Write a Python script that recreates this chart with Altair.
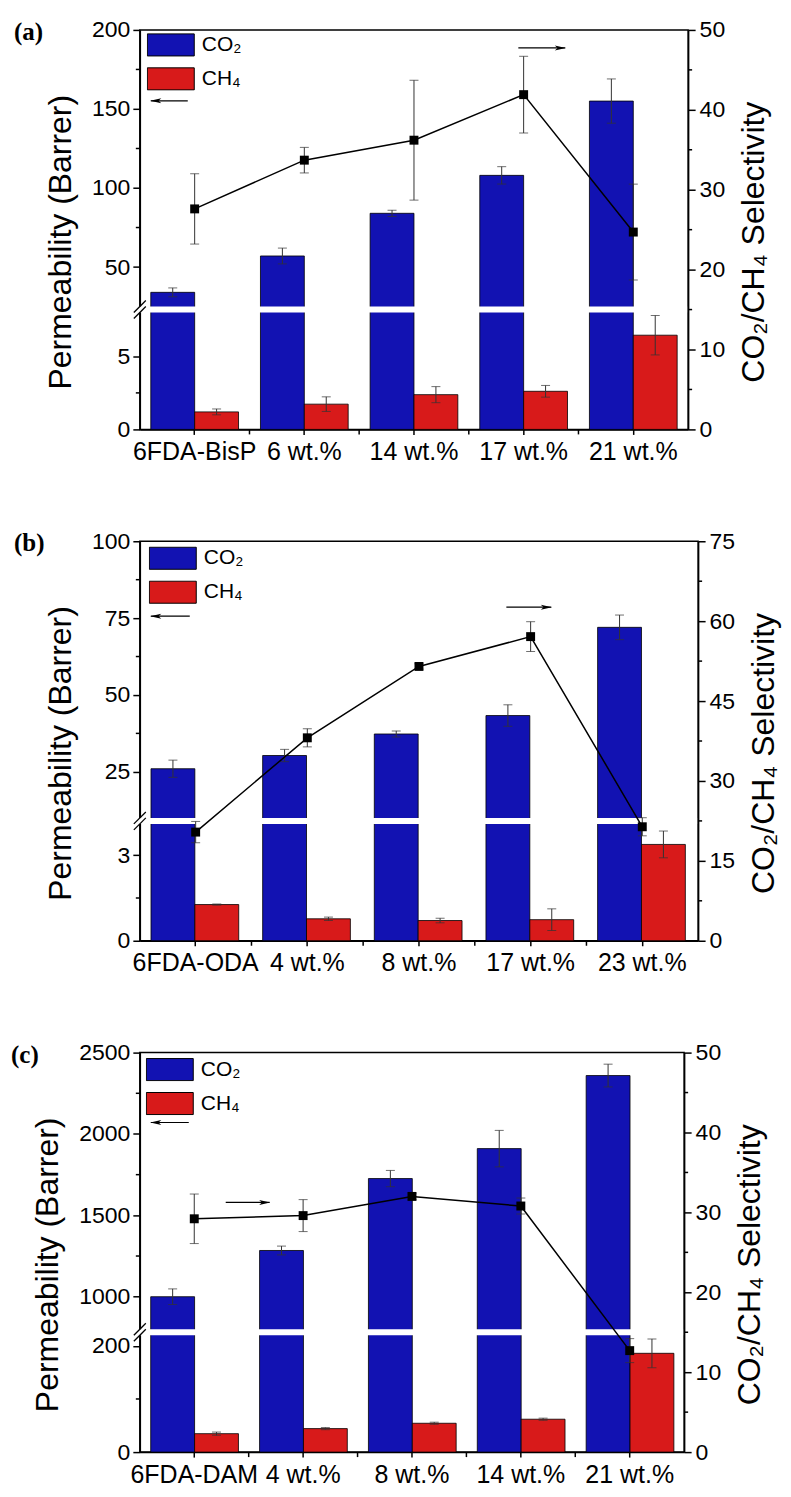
import altair as alt
import pandas as pd

FONT = "Liberation Sans"
BLUE = "#1212b2"
RED = "#d81a1a"
GASES = ["CO₂", "CH₄"]

# ---------------- panel (a) ----------------
cats_a = ["6FDA-BisP", "6 wt.%", "14 wt.%", "17 wt.%", "21 wt.%"]
co2_a = [34, 57, 84, 108, 155]
co2_err_a = [2.8, 5, 2, 5.5, 14]
ch4_a = [1.2, 1.73, 2.38, 2.61, 6.45]
ch4_err_a = [0.2, 0.5, 0.55, 0.4, 1.35]
sel_a = [27.6, 33.7, 36.2, 41.9, 24.7]
sel_err_a = [4.4, 1.6, 7.5, 4.8, 6.0]

# ---------------- panel (b) ----------------
cats_b = ["6FDA-ODA", "4 wt.%", "8 wt.%", "17 wt.%", "23 wt.%"]
co2_b = [26, 30.3, 37.3, 43.3, 72]
co2_err_b = [2.8, 2, 1, 3.5, 4]
ch4_b = [1.27, 0.77, 0.71, 0.74, 3.38]
ch4_err_b = [0.02, 0.06, 0.08, 0.38, 0.47]
sel_b = [20.4, 38.1, 51.5, 57.1, 21.4]
sel_err_b = [2, 1.7, 0.5, 2.8, 1.7]

# ---------------- panel (c) ----------------
cats_c = ["6FDA-DAM", "4 wt.%", "8 wt.%", "14 wt.%", "21 wt.%"]
co2_c = [1000, 1284, 1726, 1910, 2359]
co2_err_c = [48, 27, 50, 112, 70]
ch4_c = [34.7, 44.2, 54.3, 61.9, 186]
ch4_err_c = [3, 2, 2, 2, 27]
sel_c = [29.2, 29.6, 32.0, 30.8, 12.7]
sel_err_c = [3.1, 2, 0.4, 1, 1.5]

# broken left axes: [0, lower top, upper bottom, top]
ydom_a = [0, 8, 25, 200]
ymaj_a = [0, 5, 50, 100, 150, 200]
ymin_a = [2.5, 75, 125, 175]
ydom_b = [0, 4.1, 10, 100]
ymaj_b = [0, 3, 25, 50, 75, 100]
ymin_b = [1.5, 37.5, 62.5, 87.5]
ydom_c = [0, 220, 800, 2500]
ymaj_c = [0, 200, 1000, 1500, 2000, 2500]
ymin_c = [100, 1250, 1750, 2250]

H = 400


def one():
    return alt.Data(values=[{"k": 0}])


def arrow(x1, x2, y, right):
    line = alt.Chart(one()).mark_rule(color="black", strokeWidth=1.2).encode(
        x=alt.value(x1), x2=alt.value(x2), y=alt.value(y))
    if right:
        shape = "M1,0L-1,-0.45L-0.5,0L-1,0.45Z"
        hx = x2 - 5
    else:
        shape = "M-1,0L1,-0.45L0.5,0L1,0.45Z"
        hx = x1 + 5
    head = alt.Chart(one()).mark_point(shape=shape, filled=True, size=121, color="black", opacity=1).encode(
        x=alt.value(hx), y=alt.value(y))
    return [line, head]


def panel(tag, tag_dx, cats, co2, co2_err, ch4, ch4_err, sel, sel_err,
          ydom, ymaj, ymin, rmax, rstep, width, leg, arrows):
    n = len(cats)
    bars_df = pd.DataFrame({
        "cat": cats + cats,
        "gas": [GASES[0]] * n + [GASES[1]] * n,
        "v": co2 + ch4,
        "e": co2_err + ch4_err,
    })
    sel_df = pd.DataFrame({"cat": cats, "s": sel, "e": sel_err})
    gaps_df = pd.DataFrame({"cat": cats[:-1]})

    xsc = alt.Scale(domain=cats, paddingInner=0.2, paddingOuter=0.1)
    xaxis = alt.Axis(title=None, labelFontSize=25, labelAngle=0, labelOverlap=False,
                     tickSize=5, labelPadding=5, labelFont=FONT)
    xo = alt.XOffset("gas:N", scale=alt.Scale(domain=GASES, paddingInner=0, paddingOuter=0))
    xn = alt.X("cat:N", scale=xsc)

    ysc = alt.Scale(domain=ydom, range=[H, 283, 277, 0], nice=False, zero=False)
    yaxis = alt.Axis(values=ymaj, format="d", tickSize=7, title="Permeability (Barrer)",
                     titleFontSize=32, labelFontSize=23, labelOverlap=False,
                     labelPadding=3, titlePadding=14, titleY=212)

    bars = alt.Chart(bars_df).mark_bar(stroke="black", strokeWidth=0.8).encode(
        x=alt.X("cat:N", scale=xsc, axis=xaxis),
        xOffset=xo,
        y=alt.Y("v:Q", scale=ysc, axis=yaxis),
        fill=alt.Fill("gas:N", scale=alt.Scale(domain=GASES, range=[BLUE, RED]),
                      legend=alt.Legend(title=None, orient="none", legendX=leg[0], legendY=leg[1],
                                        symbolType="M-1,-0.47H1V0.47H-1Z", symbolSize=2209,
                                        symbolStrokeColor="black", symbolStrokeWidth=1,
                                        labelFontSize=21, labelFont=FONT, labelOffset=7,
                                        clipHeight=24, rowPadding=leg[2], padding=0)),
    )
    eb = alt.Chart(bars_df).transform_calculate(lo="datum.v - datum.e", hi="datum.v + datum.e")
    eb_rule = eb.mark_rule(color="#333333", strokeWidth=1).encode(
        x=xn, xOffset=xo, y=alt.Y("lo:Q"), y2="hi:Q")
    eb_top = eb.mark_tick(color="#333333", size=9, thickness=1).encode(
        x=xn, xOffset=xo, y=alt.Y("hi:Q"))
    eb_bot = eb.mark_tick(color="#333333", size=9, thickness=1).encode(
        x=xn, xOffset=xo, y=alt.Y("lo:Q"))
    gap = alt.Chart(one()).mark_rect(color="white").encode(
        x=alt.value(-4), x2=alt.value(width - 1),
        y=alt.YDatum(ydom[1]), y2=alt.Y2Datum(ydom[2]))
    brk1 = alt.Chart(one()).mark_rule(color="black", strokeWidth=1.3).encode(
        x=alt.value(-6), x2=alt.value(6), y=alt.value(289), y2=alt.value(277))
    brk2 = alt.Chart(one()).mark_rule(color="black", strokeWidth=1.3).encode(
        x=alt.value(-6), x2=alt.value(6), y=alt.value(283), y2=alt.value(271))
    xminor = alt.Chart(gaps_df).mark_rule(color="black", strokeWidth=1.5, xOffset=width / 50).encode(
        x=alt.X("cat:N", scale=xsc, bandPosition=1),
        y=alt.value(H), y2=alt.value(H + 5))
    yminor = alt.Chart(pd.DataFrame({"t": ymin})).mark_rule(color="black", strokeWidth=1.5).encode(
        x=alt.value(-4), x2=alt.value(0), y=alt.Y("t:Q"))

    left = alt.layer(bars, gap, eb_rule, eb_top, eb_bot, brk1, brk2, xminor, yminor)

    rmaj = [i * rstep for i in range(int(rmax / rstep) + 1)]
    rmin = [i * rstep + rstep / 2 for i in range(int(rmax / rstep))]
    rsc = alt.Scale(domain=[0, rmax], nice=False)
    raxis = alt.Axis(orient="right", values=rmaj, format="d", tickSize=7, title="CO₂/CH₄ Selectivity",
                     titleFontSize=32, labelFontSize=23, labelOverlap=False,
                     titleAngle=270, titleBaseline="top", labelPadding=4, titlePadding=14,
                     titleY=212, zindex=1)
    line = alt.Chart(sel_df).mark_line(color="black", strokeWidth=1.5).encode(
        x=xn, y=alt.Y("s:Q", scale=rsc, axis=raxis))
    pts = alt.Chart(sel_df).mark_point(shape="square", filled=True, size=80, color="black", opacity=1).encode(
        x=xn, y=alt.Y("s:Q"))
    se = alt.Chart(sel_df).transform_calculate(lo="datum.s - datum.e", hi="datum.s + datum.e")
    se_rule = se.mark_rule(color="#333333", strokeWidth=1).encode(
        x=xn, y=alt.Y("lo:Q"), y2="hi:Q")
    se_top = se.mark_tick(color="#333333", size=9, thickness=1).encode(x=xn, y=alt.Y("hi:Q"))
    se_bot = se.mark_tick(color="#333333", size=9, thickness=1).encode(x=xn, y=alt.Y("lo:Q"))
    rminor = alt.Chart(pd.DataFrame({"t": rmin})).mark_rule(color="black", strokeWidth=1.5).encode(
        x=alt.value(width), x2=alt.value(width + 4), y=alt.Y("t:Q"))

    label = alt.Chart(one()).mark_text(text=tag, font="Liberation Serif", fontWeight="bold",
                                       fontSize=25, align="left", baseline="alphabetic").encode(
        x=alt.value(tag_dx), y=alt.value(10))
    extra = []
    for a in arrows:
        extra += arrow(*a)
    right = alt.layer(se_rule, se_top, se_bot, line, pts, rminor, label, *extra)

    return alt.layer(left, right).resolve_scale(y="independent").properties(width=width, height=H)


pa = panel("(a)", -126, cats_a, co2_a, co2_err_a, ch4_a, ch4_err_a, sel_a, sel_err_a,
           ydom_a, ymaj_a, ymin_a, 50, 10, 549, (7, 3, 10),
           [(11, 48, 71, False), (379, 426, 18, True)])
pb = panel("(b)", -126, cats_b, co2_b, co2_err_b, ch4_b, ch4_err_b, sel_b, sel_err_b,
           ydom_b, ymaj_b, ymin_b, 75, 15, 559, (9, 5, 10),
           [(11, 50, 75, False), (367, 412, 66, True)])
pc = panel("(c)", -129, cats_c, co2_c, co2_err_c, ch4_c, ch4_err_c, sel_c, sel_err_c,
           ydom_c, ymaj_c, ymin_c, 50, 10, 545, (6, 5, 10),
           [(11, 49, 70, False), (86, 130, 150, True)])

chart = alt.vconcat(pa, pb, pc, spacing=64).resolve_scale(fill="independent").properties(
    padding={"left": 2, "top": 9, "right": 2, "bottom": 0}, background="white"
).configure_view(stroke="black", strokeWidth=1.5).configure_axis(
    domainColor="black", domainWidth=1.5, tickColor="black", tickWidth=1.5,
    labelColor="black", titleColor="black", labelFont=FONT, titleFont=FONT,
    titleFontWeight="normal", grid=False
).configure_legend(labelFont=FONT, labelColor="black")

chart.save("out.html", embed_options={"renderer": "svg", "actions": False})
